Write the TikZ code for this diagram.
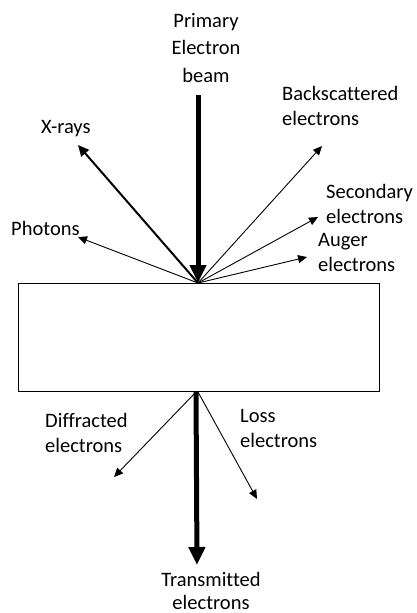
\documentclass[tikz,border=0pt]{standalone}
\usepackage{fontspec}
\setmainfont{Carlito}[Ligatures={NoCommon}]
\usetikzlibrary{arrows.meta}
\begin{document}
\begin{tikzpicture}[x=1pt,y=-1pt,
  lbl/.style={inner sep=0pt,font=\fontsize{20.5}{24.5}\selectfont,align=left,anchor=base west},
  lblc/.style={inner sep=0pt,font=\fontsize{20.5}{27.5}\selectfont,align=center,anchor=base},
  thin arrow/.style={line width=0.9pt,-{Triangle[length=9pt,width=8pt]}},
  mid arrow/.style={line width=2pt,-{Triangle[length=11pt,width=10pt]}},
  thick arrow/.style={line width=5pt,-{Triangle[length=18pt,width=16pt]}}]
\useasboundingbox (0,0) rectangle (417,613);
\node[draw,line width=1pt,minimum width=361pt,minimum height=108pt,inner sep=0pt] (sample) at (198.5,337) {};
\coordinate (hit) at (198,283);
\coordinate (exit) at (196,392);
% ends
\coordinate (beamtop) at (198,95);
\coordinate (xend) at (78,145);
\coordinate (bsend) at (322,146);
\coordinate (secend) at (318,217);
\coordinate (augend) at (307,257);
\coordinate (phend) at (78,237);
\coordinate (difend) at (114,477);
\coordinate (lossend) at (257,499);
\coordinate (trend) at (197,565);
% arrows
\draw[thick arrow] (beamtop) -- (hit);
\draw[mid arrow] (hit) -- (xend);
\draw[thin arrow] (hit) -- (bsend);
\draw[thin arrow] (hit) -- (secend);
\draw[thin arrow] (hit) -- (augend);
\draw[thin arrow] (hit) -- (phend);
\draw[thin arrow] (exit) -- (difend);
\draw[thin arrow] ([xshift=2pt]exit) -- (lossend);
\draw[thick arrow] (exit) -- (trend);
% labels (base anchor = baseline of last line)
\node[lblc] (primary) at (206,82) {Primary\\Electron\\beam};
\node[lbl] (bs) at (282,125) {Backscattered\\electrons};
\node[lbl] (xr) at (41,133) {X-rays};
\node[lbl] (sec) at (326,223) {Secondary\\electrons};
\node[lbl] (ph) at (11,235) {Photons};
\node[lbl] (aug) at (318,271) {Auger\\electrons};
\node[lbl] (dif) at (45,452) {Diffracted\\electrons};
\node[lbl] (loss) at (240,447) {Loss\\electrons};
\node[lblc,font=\fontsize{20.5}{23}\selectfont] (tr) at (211,609) {Transmitted\\electrons};
\end{tikzpicture}
\end{document}
